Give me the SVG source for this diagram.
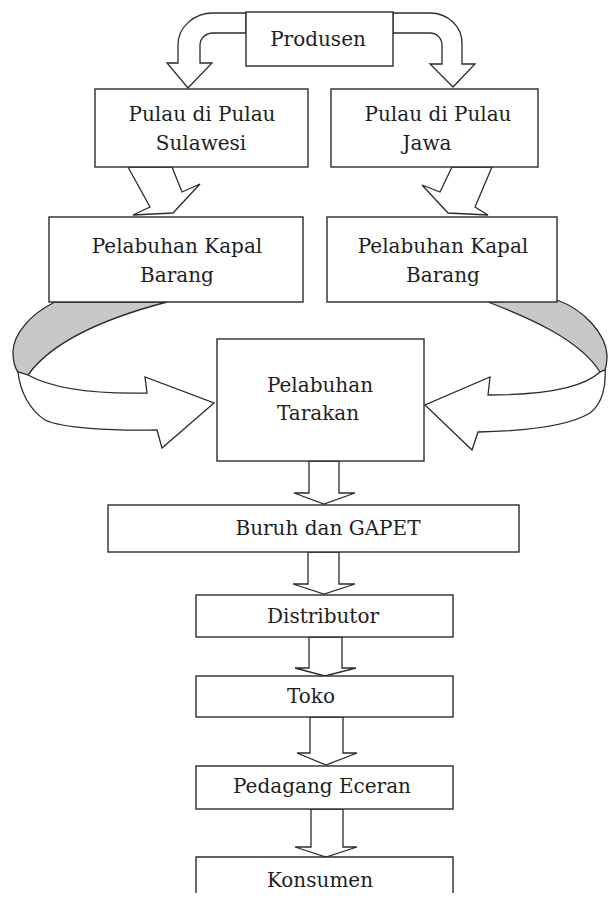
<svg xmlns="http://www.w3.org/2000/svg" width="608" height="899" viewBox="0 0 608 899">
<style>
.box{fill:#fff;stroke:#2b2b2b;stroke-width:1.4}
.arr{fill:#fff;stroke:#2b2b2b;stroke-width:1.3;stroke-linejoin:miter}
.gray{fill:#c8c8c8;stroke:#2b2b2b;stroke-width:1.3}
.t{font-family:"DejaVu Serif","Liberation Serif",serif;font-size:20px;fill:#1e1e1e;text-anchor:middle}
</style>
<rect width="608" height="899" fill="#fff"/>
<g id="connectors">
<path class="arr" d="M246,13 H213 A35,32 0 0 0 178,45 V63 H167 L188,88 L212,63 H200 V45 A13,12 0 0 1 213,33 H246 Z"/>
<path class="arr" d="M393,13 H430 A32,30 0 0 1 462,43 V64 H475 L453,87 L430,64 H442 V45 A12,12 0 0 0 430,33 H393 Z"/>
<polygon class="arr" points="128,167 150,207 133,215 173,213 200,184 182,192 172,167"/>
<polygon class="arr" points="452,167 440,192 422,185 448,213 488,215 475,207 492,167"/>
<path class="gray" d="M55,302 C30,314 13,335 13,352 C13,362 15,368 18,372 L28,375 Q60,330 167,302 Z"/>
<path class="arr" d="M28,375 C55,390 100,394 147,393 L145,377 L214,403 L162,448 L157,430 C110,431 62,428 45,420 C30,410 20,392 18,372 Z"/>
<path class="gray" d="M557,300 C585,310 606,335 607,355 C607,362 606,367 605,370 L600,372 C580,340 530,318 488,302 Z"/>
<path class="arr" d="M600,372 C585,386 550,395 488,395 L490,377 L425,405 L472,450 L478,432 C530,431 570,425 590,413 C603,403 606,385 605,370 Z"/>
<polygon class="arr" points="309,461 339,461 339,493 355,493 324,504 294,493 309,493"/>
<polygon class="arr" points="308,552 339,552 339,584 355,584 324,594 293,584 308,584"/>
<polygon class="arr" points="309,637 342,637 342,668 356,668 325,676 295,668 309,668"/>
<polygon class="arr" points="310,717 343,717 343,753 357,753 326,765 297,753 310,753"/>
<polygon class="arr" points="311,809 343,809 343,847 357,847 326,857 295,847 311,847"/>
</g>
<g id="produsen"><rect class="box" x="246" y="12" width="147" height="54"/><text class="t" x="318" y="46">Produsen</text></g>
<g id="sulawesi"><rect class="box" x="95" y="89" width="213" height="78"/><text class="t" x="202" y="121">Pulau di Pulau</text><text class="t" x="201" y="150">Sulawesi</text></g>
<g id="jawa"><rect class="box" x="331" y="89" width="207" height="78"/><text class="t" x="438" y="121">Pulau di Pulau</text><text class="t" x="427" y="150">Jawa</text></g>
<g id="pelabuhan-kiri"><rect class="box" x="49" y="217" width="254" height="85"/><text class="t" x="177" y="253">Pelabuhan Kapal</text><text class="t" x="177" y="282">Barang</text></g>
<g id="pelabuhan-kanan"><rect class="box" x="327" y="217" width="230" height="85"/><text class="t" x="443" y="253">Pelabuhan Kapal</text><text class="t" x="443" y="282">Barang</text></g>
<g id="tarakan"><rect class="box" x="217" y="339" width="207" height="122"/><text class="t" x="320" y="392">Pelabuhan</text><text class="t" x="318" y="420">Tarakan</text></g>
<g id="buruh"><rect class="box" x="108" y="505" width="411" height="47"/><text class="t" x="328" y="535">Buruh dan GAPET</text></g>
<g id="distributor"><rect class="box" x="196" y="595" width="257" height="42"/><text class="t" x="323" y="623">Distributor</text></g>
<g id="toko"><rect class="box" x="196" y="676" width="257" height="41"/><text class="t" x="311" y="703">Toko</text></g>
<g id="pedagang"><rect class="box" x="196" y="766" width="257" height="43"/><text class="t" x="322" y="793">Pedagang Eceran</text></g>
<g id="konsumen"><path class="box" d="M196,893 V857 H453 V893"/><text class="t" x="320" y="887">Konsumen</text></g>
</svg>
